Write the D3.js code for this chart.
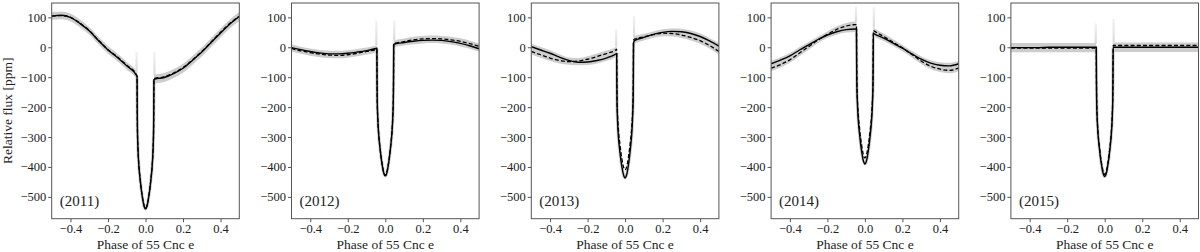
<!DOCTYPE html>
<html>
<head>
<meta charset="utf-8">
<script src="https://cdn.jsdelivr.net/npm/d3@7"></script>
<style>
  html, body { margin: 0; padding: 0; background: #fff; }
  svg { display: block; }
</style>
</head>
<body>
<div id="chart"></div>
<script>
// phase grid shared by all model curves (out of transit, transit, out of transit)
const phase = [-0.5, -0.45, -0.4, -0.35, -0.3, -0.25, -0.2, -0.15, -0.1, -0.05,
  -0.045, -0.044, -0.043, -0.04, -0.035, -0.028, -0.022, -0.017, -0.011, -0.005, 0,
  0.005, 0.011, 0.017, 0.022, 0.028, 0.035, 0.04, 0.043, 0.044, 0.045,
  0.05, 0.1, 0.15, 0.2, 0.25, 0.3, 0.35, 0.4, 0.45, 0.5];

const years = ['2011', '2012', '2013', '2014', '2015'];

const solid2011 = [105, 107, 100, 80, 55, 22, -9, -34, -62, -92,
  -98, -209, -275, -341, -399, -445, -478, -500, -522, -536, -540,
  -536, -523, -501, -480, -447, -402, -346, -281, -216, -108,
  -106, -101, -88, -70, -44, -16, 16, 48, 78, 103];
const dashed2011 = [104, 106, 100, 81, 56, 23, -8, -32, -60, -90,
  -96, -207, -273, -339, -397, -443, -476, -498, -520, -534, -538,
  -534, -521, -499, -478, -445, -400, -344, -279, -214, -106,
  -104, -99, -86, -68, -42, -14, 18, 50, 80, 104];

const solid2012 = [-1, -8, -14, -19, -22, -22, -20, -16, -11, -4,
  -3, -110, -174, -238, -293, -338, -370, -392, -413, -426, -430,
  -426, -412, -390, -368, -335, -289, -232, -166, -100, 10,
  11, 16, 20, 23, 24, 23, 19, 13, 5, -5];
const dashed2012 = [-4, -12, -18, -23, -26, -27, -25, -20, -14, -8,
  -7, -112, -175, -239, -293, -337, -369, -390, -411, -424, -428,
  -424, -410, -388, -366, -333, -287, -230, -164, -98, 12,
  13, 19, 25, 28, 29, 28, 25, 20, 12, 3];

const solid2013 = [2, -9, -20, -33, -44, -50, -49, -44, -36, -23,
  -21, -125, -187, -250, -304, -348, -379, -400, -420, -433, -437,
  -432, -419, -396, -374, -340, -293, -234, -166, -99, 14,
  22, 33, 43, 50, 53, 52, 46, 36, 21, 4];
const dashed2013 = [-14, -25, -36, -44, -48, -46, -40, -31, -21, -9,
  -6, -107, -168, -228, -281, -323, -353, -374, -394, -406, -410,
  -406, -393, -371, -349, -317, -271, -215, -150, -85, 24,
  27, 35, 42, 47, 46, 41, 33, 22, 6, -14];

const solid2014 = [-55, -43, -29, -10, 8, 26, 41, 52, 59, 61,
  61, -52, -119, -187, -246, -293, -327, -349, -372, -385, -390,
  -386, -373, -351, -329, -296, -250, -193, -128, -62, 47,
  45, 31, 14, -3, -22, -40, -53, -60, -62, -55];
const dashed2014 = [-70, -58, -42, -20, 2, 24, 43, 60, 71, 76,
  76, -36, -102, -169, -227, -274, -308, -330, -352, -366, -370,
  -366, -353, -332, -310, -278, -234, -178, -114, -51, 56,
  54, 36, 17, -2, -24, -46, -63, -73, -77, -70];

const solid2015 = [-1, -1, -1, -1, 0, 0, 0, 0, 0, 0,
  0, -108, -173, -238, -294, -339, -372, -393, -415, -428, -432,
  -428, -415, -393, -372, -339, -294, -238, -173, -108, 0,
  0, 0, 0, 0, 0, 0, 0, 0, 0, 0];
const dashed2015 = [-3, -3, -3, -3, -3, -3, -3, -3, -3, -3,
  -3, -109, -172, -235, -290, -334, -366, -387, -408, -421, -425,
  -421, -408, -386, -365, -332, -287, -231, -166, -102, 6,
  6, 6, 6, 6, 6, 6, 6, 6, 6, 6];

// posterior band (out of transit)
const bandPhase = [-0.5, -0.45, -0.4, -0.35, -0.3, -0.25, -0.2, -0.15, -0.1, -0.05, -0.045,
  0.045, 0.05, 0.1, 0.15, 0.2, 0.25, 0.3, 0.35, 0.4, 0.45, 0.5];

const bandLo2011 = [92, 94, 87, 67, 42, 9, -22, -47, -75, -105, -111, -123, -121, -116, -103, -85, -59, -31, 1, 33, 63, 88];
const bandHi2011 = [118, 120, 113, 93, 68, 35, 4, -21, -49, -79, -85, -93, -91, -86, -73, -55, -29, -1, 31, 63, 93, 118];
const bandLo2012 = [-14, -22, -28, -33, -36, -37, -35, -30, -24, -18, -17, 0, 1, 6, 10, 13, 14, 13, 9, 3, -5, -15];
const bandHi2012 = [9, 2, -4, -9, -12, -12, -10, -6, -1, 6, 7, 22, 23, 29, 35, 38, 39, 38, 35, 30, 22, 13];
const bandLo2013 = [-24, -35, -46, -54, -58, -60, -59, -54, -46, -33, -31, 4, 12, 23, 32, 37, 36, 31, 23, 12, -4, -24];
const bandHi2013 = [12, 1, -10, -23, -34, -36, -30, -21, -11, 1, 4, 34, 37, 45, 53, 60, 63, 62, 56, 46, 31, 14];
const bandLo2014 = [-80, -68, -52, -30, -8, 14, 31, 42, 49, 51, 51, 37, 35, 21, 4, -13, -34, -56, -73, -83, -87, -80];
const bandHi2014 = [-45, -33, -19, 0, 18, 36, 53, 70, 81, 86, 86, 66, 64, 46, 27, 8, -12, -30, -43, -50, -52, -45];
const bandLo2015 = [-17, -17, -17, -17, -17, -17, -17, -17, -17, -17, -17, -16, -16, -16, -16, -16, -16, -16, -16, -16, -16, -16];
const bandHi2015 = [14, 14, 14, 14, 14, 14, 14, 14, 14, 14, 14, 16, 16, 16, 16, 16, 16, 16, 16, 16, 16, 16];

// faint spread of transit times at ingress / egress (top value in ppm)
const stripeTopIn = [-15, 90, 60, 135, 80];
const stripeTopEg = [-15, 90, 105, 135, 95];

const xTicks = [-0.4, -0.2, 0.0, 0.2, 0.4];
const yTicks = [-500, -400, -300, -200, -100, 0, 100];

const solids = [solid2011, solid2012, solid2013, solid2014, solid2015];
const dashes = [dashed2011, dashed2012, dashed2013, dashed2014, dashed2015];
const bandLos = [bandLo2011, bandLo2012, bandLo2013, bandLo2014, bandLo2015];
const bandHis = [bandHi2011, bandHi2012, bandHi2013, bandHi2014, bandHi2015];

const width = 1200, height = 252;
const panelLeft = 51.7, panelStep = 239.8, panelW = 187.6;
const panelTop = 3, panelBottom = 218.7;
const font = "'Liberation Serif', 'Tinos', 'Times New Roman', 'DejaVu Serif', serif";

const svg = d3.select('#chart').append('svg')
  .attr('width', width)
  .attr('height', height)
  .style('font-family', font);

const defs = svg.append('defs');
const grad = defs.append('linearGradient')
  .attr('id', 'fade').attr('x1', 0).attr('y1', 1).attr('x2', 0).attr('y2', 0);
grad.append('stop').attr('offset', '0%').attr('stop-color', '#d4d4d4').attr('stop-opacity', 0.9);
grad.append('stop').attr('offset', '100%').attr('stop-color', '#e4e4e4').attr('stop-opacity', 0.5);

const y = d3.scaleLinear().domain([-573, 148]).range([panelBottom, panelTop]);

years.forEach((yr, i) => {
  const x0 = panelLeft + i * panelStep;
  const x = d3.scaleLinear().domain([-0.5, 0.5]).range([x0, x0 + panelW]);

  defs.append('clipPath').attr('id', 'clip' + i)
    .append('rect')
    .attr('x', x0).attr('y', panelTop)
    .attr('width', panelW).attr('height', panelBottom - panelTop);

  const g = svg.append('g');
  const plot = g.append('g').attr('clip-path', `url(#clip${i})`);

  const solid = phase.map((p, k) => ({ p, v: solids[i][k] }));
  const dashed = phase.map((p, k) => ({ p, v: dashes[i][k] }));
  const band = bandPhase.map((p, k) => ({ p, lo: bandLos[i][k], hi: bandHis[i][k] }));

  const line = d3.line()
    .x(d => x(d.p))
    .y(d => y(d.v))
    .curve(d3.curveMonotoneX);

  const area = d3.area()
    .x(d => x(d.p))
    .y0(d => y(d.lo))
    .y1(d => y(d.hi))
    .curve(d3.curveMonotoneX);

  // band, split at the transit
  const bandL = band.filter(d => d.p < 0);
  const bandR = band.filter(d => d.p > 0);
  [bandL, bandR].forEach(part => {
    plot.append('path')
      .datum(part)
      .attr('fill', '#cdcdcd')
      .attr('d', area);
  });

  // faint stripes at ingress and egress
  const ingressTop = bandL[bandL.length - 1].hi;
  const egressTop = bandR[0].hi;
  plot.append('rect')
    .attr('x', x(-0.045) - 1.6).attr('width', 2.2)
    .attr('y', y(stripeTopIn[i]))
    .attr('height', Math.max(0, y(ingressTop) - y(stripeTopIn[i])))
    .attr('fill', 'url(#fade)');
  plot.append('rect')
    .attr('x', x(0.045) - 0.6).attr('width', 2.2)
    .attr('y', y(stripeTopEg[i]))
    .attr('height', Math.max(0, y(egressTop) - y(stripeTopEg[i])))
    .attr('fill', 'url(#fade)');

  // band inside the transit
  plot.append('path')
    .datum(solid.filter(d => d.p >= -0.045 && d.p <= 0.045))
    .attr('fill', 'none')
    .attr('stroke', '#d0d0d0')
    .attr('stroke-width', 3.2)
    .attr('stroke-linejoin', 'round')
    .attr('d', line);

  plot.append('path')
    .datum(dashed)
    .attr('fill', 'none')
    .attr('stroke', '#000')
    .attr('stroke-width', 1.3)
    .attr('stroke-dasharray', '4,2.2')
    .attr('d', line);

  plot.append('path')
    .datum(solid)
    .attr('fill', 'none')
    .attr('stroke', '#000')
    .attr('stroke-width', 1.4)
    .attr('d', line);

  // frame
  g.append('rect')
    .attr('x', x0).attr('y', panelTop)
    .attr('width', panelW).attr('height', panelBottom - panelTop)
    .attr('fill', 'none')
    .attr('stroke', '#555')
    .attr('stroke-width', 1);

  // axes
  g.append('g')
    .attr('transform', `translate(0,${panelBottom})`)
    .call(d3.axisBottom(x).tickValues(xTicks).tickFormat(d3.format('.1f')).tickSize(3.5).tickPadding(2.3))
    .call(a => a.select('.domain').remove())
    .call(a => a.selectAll('.tick line').attr('stroke', '#555'))
    .call(a => a.selectAll('.tick text').attr('fill', '#222').attr('font-family', font).attr('font-size', 12.5));

  g.append('g')
    .attr('transform', `translate(${x0},0)`)
    .call(d3.axisLeft(y).tickValues(yTicks).tickFormat(d3.format('d')).tickSize(3.5).tickPadding(2))
    .call(a => a.select('.domain').remove())
    .call(a => a.selectAll('.tick line').attr('stroke', '#555'))
    .call(a => a.selectAll('.tick text').attr('fill', '#222').attr('font-family', font).attr('font-size', 12.5));

  // labels
  g.append('text')
    .attr('x', x0 + panelW / 2)
    .attr('y', 249)
    .attr('text-anchor', 'middle')
    .attr('font-size', 13.5)
    .attr('fill', '#222')
    .text('Phase of 55 Cnc e');

  g.append('text')
    .attr('x', x0 + 8)
    .attr('y', 206)
    .attr('font-size', 15)
    .attr('fill', '#222')
    .text(`(${yr})`);
});

svg.append('text')
  .attr('transform', `translate(12,${(panelTop + panelBottom) / 2}) rotate(-90)`)
  .attr('text-anchor', 'middle')
  .attr('font-size', 13.5)
  .attr('fill', '#222')
  .text('Relative flux [ppm]');
</script>
</body>
</html>
